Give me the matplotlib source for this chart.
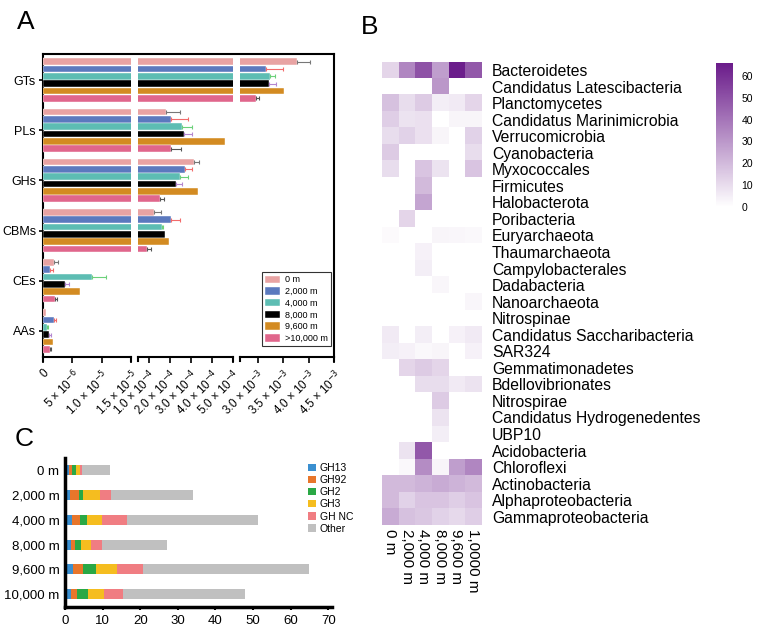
import matplotlib
matplotlib.use("Agg")
import matplotlib.pyplot as plt
from matplotlib.colors import LinearSegmentedColormap
import numpy as np

plt.rcParams['font.family'] = ['Liberation Sans', 'DejaVu Sans']

W, H = 761.0, 637.0

def rect(x0, y0, x1, y1):
    # pixel box -> figure fraction [left, bottom, width, height]
    return [x0 / W, 1 - y1 / H, (x1 - x0) / W, (y1 - y0) / H]

# ---------------- panel A data ----------------
enzymes = ['GTs', 'PLs', 'GHs', 'CBMs', 'CEs', 'AAs']
depths_a = ['0 m', '2,000 m', '4,000 m', '8,000 m', '9,600 m', '>10,000 m']
colors_a = ['#E8A3A3', '#5B79BE', '#5DBDB3', '#000000', '#D38B22', '#E0668C']
err_colors = ['#777777', '#F26B6B', '#6CD17A', '#B487D0', '#D38B22', '#555555']
# rows = enzyme class, cols = depth
vals_a = np.array([
    [3.78e-3, 3.16e-3, 3.25e-3, 3.23e-3, 3.51e-3, 2.96e-3],
    [1.81e-4, 2.06e-4, 2.60e-4, 2.66e-4, 4.60e-4, 2.04e-4],
    [3.17e-4, 2.74e-4, 2.49e-4, 2.30e-4, 3.36e-4, 1.52e-4],
    [1.28e-4, 2.06e-4, 1.64e-4, 1.79e-4, 1.96e-4, 0.91e-4],
    [1.88e-6, 1.26e-6, 8.27e-6, 3.71e-6, 6.39e-6, 2.12e-6],
    [0.45e-6, 1.88e-6, 0.75e-6, 1.09e-6, 1.71e-6, 1.15e-6],
])
errs_a = np.array([
    [0.25e-3, 0.33e-3, 0.08e-3, 0.12e-3, 0.0, 0.06e-3],
    [0.66e-4, 0.79e-4, 0.45e-4, 0.40e-4, 0.0, 0.48e-4],
    [0.21e-4, 0.31e-4, 0.36e-4, 0.27e-4, 0.0, 0.19e-4],
    [0.32e-4, 0.41e-4, 0.05e-4, 0.0, 0.0, 0.21e-4],
    [0.68e-6, 0.40e-6, 2.45e-6, 0.68e-6, 0.0, 0.28e-6],
    [0.0, 0.40e-6, 0.15e-6, 0.23e-6, 0.0, 0.29e-6],
])
segments = [(0, 1.5e-5), (5e-5, 5e-4), (2.65e-3, 4.5e-3)]
seg_px = [(43, 131), (138, 233), (240, 334)]
seg_ticks = [[0, 5e-6, 1e-5, 1.5e-5],
             [1e-4, 2e-4, 3e-4, 4e-4, 5e-4],
             [3.0e-3, 3.5e-3, 4.0e-3, 4.5e-3]]
seg_labels = [['0', r'5 × 10$^{-6}$', r'1.0 × 10$^{-5}$', r'1.5 × 10$^{-5}$'],
              [r'1.0 × 10$^{-4}$', r'2.0 × 10$^{-4}$', r'3.0 × 10$^{-4}$',
               r'4.0 × 10$^{-4}$', r'5.0 × 10$^{-4}$'],
              [r'3.0 × 10$^{-3}$', r'3.5 × 10$^{-3}$', r'4.0 × 10$^{-3}$',
               r'4.5 × 10$^{-3}$']]

# ---------------- panel B data ----------------
phyla = ['Bacteroidetes', 'Candidatus Latescibacteria', 'Planctomycetes',
         'Candidatus Marinimicrobia', 'Verrucomicrobia', 'Cyanobacteria',
         'Myxococcales', 'Firmicutes', 'Halobacterota', 'Poribacteria',
         'Euryarchaeota', 'Thaumarchaeota', 'Campylobacterales', 'Dadabacteria',
         'Nanoarchaeota', 'Nitrospinae', 'Candidatus Saccharibacteria', 'SAR324',
         'Gemmatimonadetes', 'Bdellovibrionates', 'Nitrospirae',
         'Candidatus Hydrogenedentes', 'UBP10', 'Acidobacteria', 'Chloroflexi',
         'Actinobacteria', 'Alphaproteobacteria', 'Gammaproteobacteria']
depths_b = ['0 m', '2,000 m', '4,000 m', '8,000 m', '9,600 m', '1,0000 m']
heat = np.array([
    [12, 35, 50, 28, 65, 48],
    [0, 0, 0, 30, 0, 0],
    [18, 10, 15, 5, 6, 12],
    [14, 8, 9, 0, 3, 3],
    [10, 13, 9, 3, 0, 13],
    [15, 0, 0, 0, 0, 10],
    [10, 0, 17, 8, 0, 17],
    [0, 0, 20, 0, 0, 0],
    [0, 0, 26, 0, 0, 0],
    [0, 12, 0, 0, 0, 0],
    [1.5, 0, 0, 3, 2.5, 2],
    [0, 0, 4, 0, 0, 0],
    [0, 0, 5, 0, 0, 0],
    [0, 0, 0, 2.5, 0, 0],
    [0, 0, 0, 0, 0, 2.5],
    [0, 0, 0, 0, 0, 0],
    [6, 0, 5, 0, 4, 6],
    [5, 4, 2, 3, 0, 4],
    [0, 12, 15, 12, 0, 0],
    [0, 0, 10, 10, 6, 8],
    [0, 0, 0, 15, 0, 0],
    [0, 0, 0, 8, 0, 0],
    [0, 0, 0, 5, 0, 0],
    [0, 8, 48, 0, 0, 0],
    [0, 2, 33, 3, 28, 35],
    [20, 20, 22, 24, 22, 20],
    [20, 13, 17, 17, 14, 17],
    [24, 18, 16, 13, 11, 14],
])

# ---------------- panel C data ----------------
depths_c = ['0 m', '2,000 m', '4,000 m', '8,000 m', '9,600 m', '10,000 m']
families = ['GH13', 'GH92', 'GH2', 'GH3', 'GH NC', 'Other']
colors_c = ['#3A8FD0', '#E8762B', '#2AA845', '#F5BD1F', '#F07D82', '#C0C0C0']
gh13 = [1.15, 1.24, 1.77, 1.50, 2.21, 1.50]
gh92 = [0.60, 2.57, 2.22, 1.16, 2.48, 1.78]
gh2 = [1.15, 1.06, 1.94, 1.59, 3.55, 2.74]
gh3 = [1.15, 4.43, 3.99, 2.57, 5.49, 4.43]
ghnc = [0.55, 2.83, 6.64, 2.92, 6.91, 5.05]
other = [7.35, 21.8, 34.8, 17.3, 44.3, 32.3]

fig = plt.figure(figsize=(7.61, 6.37), dpi=100)

# ---------------- panel A ----------------
frame = fig.add_axes(rect(43, 54, 334, 357))
frame.set_xticks([])
frame.set_yticks([])
frame.spines['bottom'].set_visible(False)
for s in ['top', 'left', 'right']:
    frame.spines[s].set_linewidth(1.5)
frame.patch.set_alpha(0)

ypos = np.arange(len(enzymes))
bh = 0.146
for k, ((lo, hi), (px0, px1)) in enumerate(zip(segments, seg_px)):
    ax = fig.add_axes(rect(px0, 54, px1, 357))
    ax.patch.set_alpha(0)
    for j in range(len(depths_a)):
        yy = ypos + (j - 2.5) * bh
        ax.barh(yy, vals_a[:, j], height=bh * 0.92, color=colors_a[j],
                edgecolor='white', linewidth=0.3, label=depths_a[j])
        e = errs_a[:, j]
        m = e > 0
        ax.errorbar(vals_a[m, j], yy[m], xerr=[np.zeros(m.sum()), e[m]],
                    fmt='none', ecolor=err_colors[j], elinewidth=0.8,
                    capsize=1.5, capthick=0.8)
    ax.set_xlim(lo, hi)
    ax.set_ylim(len(enzymes) - 0.48, -0.52)
    for s in ['top', 'right', 'left']:
        ax.spines[s].set_visible(False)
    ax.spines['bottom'].set_linewidth(1.5)
    ax.set_xticks(seg_ticks[k])
    ax.set_xticklabels(seg_labels[k], rotation=45, ha='right',
                       rotation_mode='anchor', fontsize=8.3)
    ax.tick_params(axis='x', length=4, width=1.2)
    # small caps at the ends of each axis segment
    for xe in (0, 1):
        ax.plot([xe, xe], [0, -0.012], transform=ax.transAxes, color='black',
                lw=1.5, clip_on=False)
    if k == 0:
        ax.set_yticks(ypos)
        ax.set_yticklabels(enzymes, fontsize=9)
        ax.tick_params(axis='y', length=3, width=1.2, pad=2)
    else:
        ax.set_yticks([])
    if k == 2:
        leg = ax.legend(loc='lower right', fontsize=6.5, fancybox=False,
                        edgecolor='black', handlelength=1.6, handleheight=0.9,
                        handletextpad=0.6, borderpad=0.35, labelspacing=0.3,
                        borderaxespad=0.2, bbox_to_anchor=(0.99, 0.03))
        leg.get_frame().set_linewidth(0.8)

fig.text(26 / W, 1 - 22 / H, 'A', fontsize=19, ha='center', va='center')

# ---------------- panel B ----------------
cmap = LinearSegmentedColormap.from_list('wp', ['#FFFFFF', '#6A1B8A'])
axh = fig.add_axes(rect(381.7, 61.7, 481, 525))
im = axh.imshow(heat, cmap=cmap, vmin=0, vmax=66, aspect='auto',
                interpolation='nearest')
for s in axh.spines.values():
    s.set_visible(False)
axh.yaxis.tick_right()
axh.set_yticks(np.arange(len(phyla)))
axh.set_yticklabels(phyla, fontsize=11.3)
axh.set_xticks(np.arange(len(depths_b)))
axh.set_xticklabels(depths_b, rotation=270, fontsize=11, va='top', ha='center')
axh.tick_params(length=0, pad=8)
axh.tick_params(axis='x', pad=3)

cax = fig.add_axes(rect(716, 62.7, 733, 207))
cb = fig.colorbar(im, cax=cax)
cb.outline.set_visible(False)
cb.set_ticks([0, 10, 20, 30, 40, 50, 60])
cax.tick_params(length=0, labelsize=7.5, pad=6)

fig.text(370 / W, 1 - 27 / H, 'B', fontsize=19, ha='center', va='center')

# ---------------- panel C ----------------
axc = fig.add_axes(rect(65, 458, 332, 607))
stack = [gh13, gh92, gh2, gh3, ghnc, other]
left = np.zeros(len(depths_c))
yc = np.arange(len(depths_c))
for name, vals, c in zip(families, stack, colors_c):
    axc.barh(yc, vals, left=left, height=0.4, color=c, label=name)
    left += np.array(vals)
axc.set_xlim(0, 71)
axc.set_ylim(len(depths_c) - 0.48, -0.5)
axc.set_yticks(yc)
axc.set_yticklabels(depths_c, fontsize=9.5)
axc.set_xticks(np.arange(0, 71, 10))
axc.tick_params(axis='x', labelsize=9.5, length=2, width=1.5)
axc.tick_params(axis='y', length=0, pad=4)
for s in ['top', 'right']:
    axc.spines[s].set_visible(False)
axc.spines['left'].set_linewidth(2.5)
axc.spines['bottom'].set_linewidth(2.5)
axc.legend(loc='upper left', bbox_to_anchor=(303 / W, 1 - 458 / H),
           bbox_transform=fig.transFigure, frameon=False, fontsize=7.5,
           handlelength=0.7, handleheight=0.7, handletextpad=0.4,
           labelspacing=0.2, borderpad=0)

fig.text(24 / W, 1 - 439 / H, 'C', fontsize=19, ha='center', va='center')

fig.savefig('out.png', dpi=100)
